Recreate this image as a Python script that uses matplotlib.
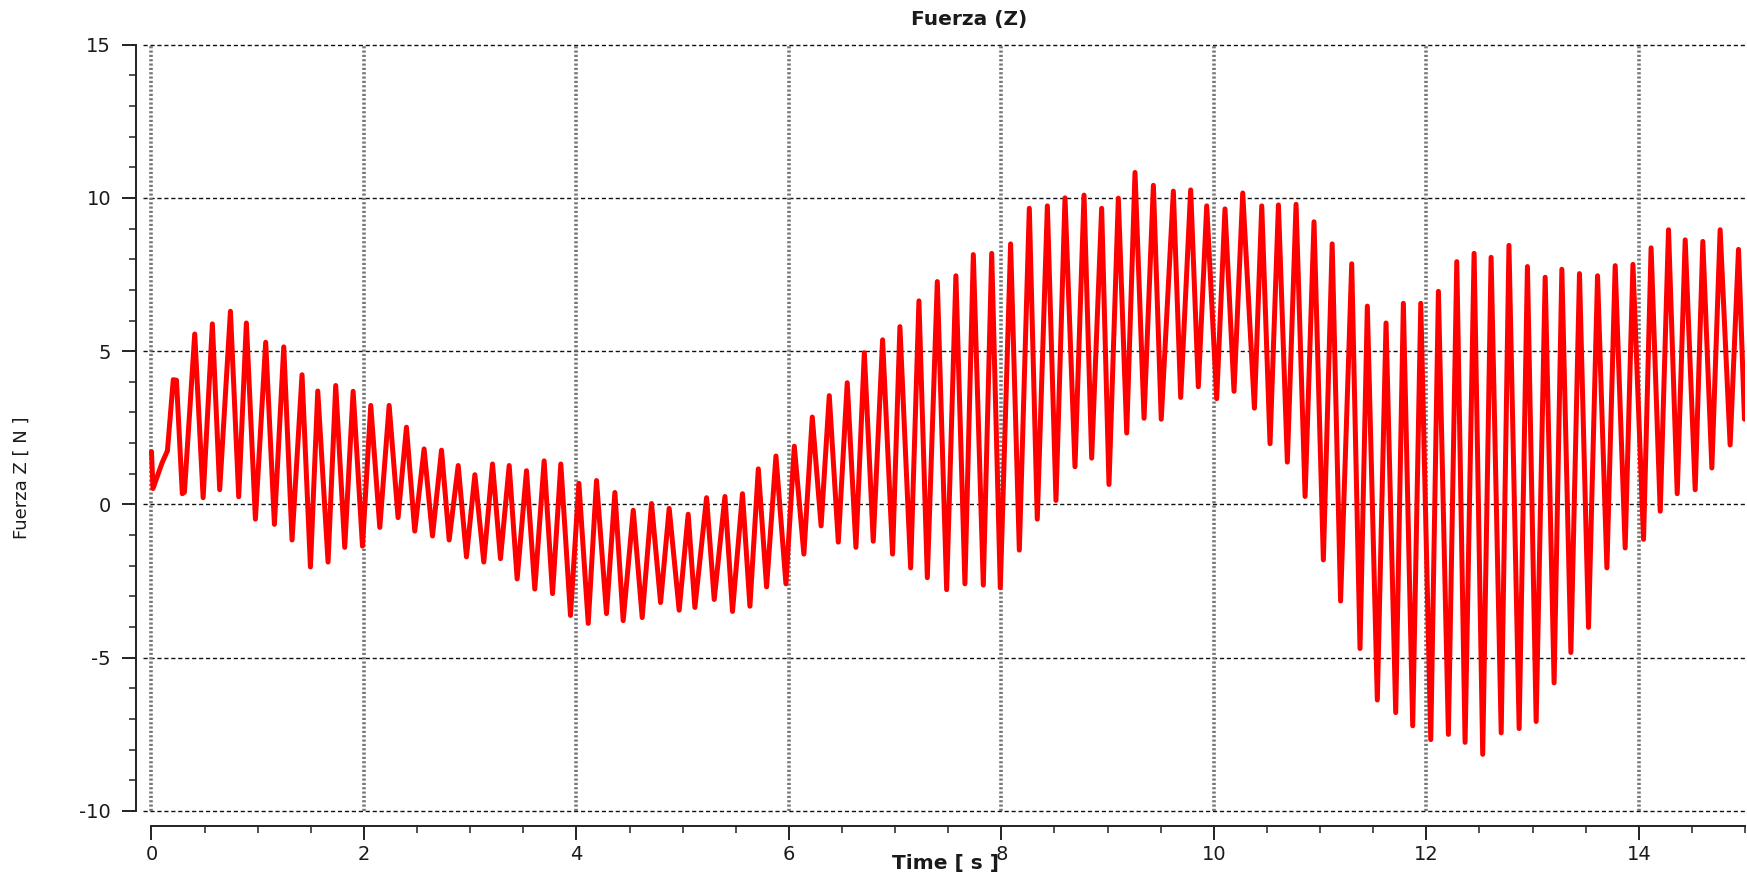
import matplotlib
matplotlib.use("Agg")
import matplotlib.pyplot as plt
from matplotlib.ticker import MultipleLocator

plt.rcParams["axes.unicode_minus"] = False

# ---- data: local extremes of the force signal ----
time_s = [
    0.000, 0.014, 0.100, 0.150, 0.205, 0.235, 0.290, 0.310, 0.407, 0.486,
    0.573, 0.642, 0.743, 0.821, 0.893, 0.978, 1.075, 1.157, 1.245, 1.323,
    1.417, 1.496, 1.565, 1.662, 1.734, 1.819, 1.898, 1.986, 2.064, 2.149,
    2.237, 2.321, 2.400, 2.478, 2.566, 2.645, 2.730, 2.802, 2.887, 2.965,
    3.044, 3.128, 3.210, 3.285, 3.367, 3.442, 3.530, 3.608, 3.696, 3.775,
    3.853, 3.944, 4.023, 4.111, 4.189, 4.283, 4.362, 4.440, 4.535, 4.619,
    4.707, 4.792, 4.873, 4.967, 5.052, 5.115, 5.225, 5.297, 5.398, 5.469,
    5.563, 5.633, 5.712, 5.790, 5.878, 5.972, 6.051, 6.141, 6.220, 6.303,
    6.380, 6.465, 6.549, 6.631, 6.710, 6.794, 6.882, 6.976, 7.045, 7.146,
    7.224, 7.303, 7.397, 7.485, 7.572, 7.657, 7.736, 7.830, 7.909, 7.990,
    8.087, 8.169, 8.263, 8.338, 8.433, 8.514, 8.599, 8.693, 8.778, 8.850,
    8.944, 9.013, 9.101, 9.180, 9.258, 9.343, 9.431, 9.505, 9.619, 9.688,
    9.782, 9.854, 9.933, 10.027, 10.105, 10.190, 10.272, 10.382, 10.451, 10.529,
    10.608, 10.692, 10.774, 10.859, 10.943, 11.031, 11.114, 11.193, 11.298, 11.376,
    11.445, 11.539, 11.621, 11.712, 11.784, 11.872, 11.948, 12.042, 12.114, 12.208,
    12.287, 12.365, 12.450, 12.531, 12.610, 12.705, 12.778, 12.874, 12.952, 13.034,
    13.119, 13.203, 13.276, 13.361, 13.442, 13.527, 13.612, 13.700, 13.778, 13.872,
    13.945, 14.045, 14.116, 14.202, 14.280, 14.362, 14.437, 14.531, 14.603, 14.688,
    14.766, 14.860, 14.939, 14.995,
]
force_z = [
    1.72, 0.52, 1.36, 1.75, 4.07, 4.05, 0.35, 0.40, 5.56, 0.22,
    5.89, 0.48, 6.30, 0.25, 5.92, -0.48, 5.29, -0.65, 5.14, -1.16,
    4.23, -2.04, 3.70, -1.88, 3.88, -1.40, 3.69, -1.36, 3.23, -0.75,
    3.23, -0.43, 2.52, -0.87, 1.81, -1.03, 1.77, -1.16, 1.27, -1.71,
    0.97, -1.88, 1.32, -1.77, 1.27, -2.43, 1.10, -2.76, 1.42, -2.91,
    1.32, -3.62, 0.69, -3.88, 0.78, -3.56, 0.39, -3.79, -0.19, -3.69,
    0.03, -3.20, -0.13, -3.45, -0.32, -3.36, 0.22, -3.10, 0.26, -3.49,
    0.35, -3.32, 1.16, -2.69, 1.58, -2.59, 1.90, -1.62, 2.85, -0.70,
    3.55, -1.23, 3.97, -1.40, 4.95, -1.20, 5.37, -1.62, 5.80, -2.07,
    6.64, -2.39, 7.27, -2.78, 7.46, -2.59, 8.15, -2.63, 8.19, -2.72,
    8.50, -1.49, 9.66, -0.48, 9.74, 0.13, 10.00, 1.23, 10.09, 1.51,
    9.66, 0.65, 9.99, 2.33, 10.83, 2.81, 10.41, 2.78, 10.22, 3.49,
    10.26, 3.84, 9.74, 3.45, 9.64, 3.69, 10.16, 3.14, 9.74, 1.98,
    9.77, 1.38, 9.79, 0.26, 9.22, -1.81, 8.50, -3.15, 7.85, -4.70,
    6.47, -6.38, 5.92, -6.79, 6.56, -7.22, 6.56, -7.67, 6.95, -7.50,
    7.92, -7.76, 8.19, -8.15, 8.06, -7.45, 8.45, -7.31, 7.76, -7.08,
    7.41, -5.82, 7.67, -4.83, 7.53, -4.01, 7.46, -2.07, 7.79, -1.42,
    7.83, -1.14, 8.37, -0.22, 8.96, 0.35, 8.63, 0.48, 8.58, 1.19,
    8.96, 1.94, 8.32, 2.78,
]
x_ticks = [0, 2, 4, 6, 8, 10, 12, 14]
y_ticks = [-10, -5, 0, 5, 10, 15]

W, H = 1747, 877
fig = plt.figure(figsize=(W / 100, H / 100), dpi=100)
x0, x1 = 143.0, 1745.0
y_top, y_bot = 44.6, 811.0
ax = fig.add_axes([x0 / W, 1 - y_bot / H, (x1 - x0) / W, (y_bot - y_top) / H])

ax.plot(time_s, force_z, color="#ff0000", lw=3.6, solid_joinstyle="round",
        solid_capstyle="round", zorder=3)

ax.set_xlim(-0.08, 15.0)
ax.set_ylim(-10, 15)
ax.set_xticks(x_ticks)
ax.set_yticks(y_ticks)
ax.xaxis.set_minor_locator(MultipleLocator(0.5))
ax.yaxis.set_minor_locator(MultipleLocator(1))

# grids
for yv in y_ticks:
    ax.axhline(yv, color="#111111", lw=1.0, ls=(0, (3, 2)), zorder=1,
               clip_on=False)
for xv in x_ticks:
    ax.axvline(xv, color="#777777", lw=2.6, ls=(0, (0.6, 0.6)), zorder=1,
               clip_on=False)

# spines
for s in ("top", "right"):
    ax.spines[s].set_visible(False)
ax.spines["left"].set_position(("outward", 5))
ax.spines["bottom"].set_position(("outward", 11))
ax.spines["left"].set_bounds(-10, 15)
ax.spines["bottom"].set_bounds(0, 15)
for s in ("left", "bottom"):
    ax.spines[s].set_linewidth(1.4)
    ax.spines[s].set_color("#222222")

ax.tick_params(axis="both", which="major", direction="out", length=10,
               width=1.4, color="#222222", labelsize=14, labelcolor="#1a1a1a")
ax.tick_params(axis="both", which="minor", direction="out", length=5,
               width=1.1, color="#222222")
ax.tick_params(axis="y", pad=8)

fig.text(969 / W, 1 - 20 / H, "Fuerza (Z)", ha="center", va="center",
         fontsize=14.5, fontweight="bold", color="#1a1a1a")
fig.text(945 / W, 1 - 864 / H, "Time [ s ]", ha="center", va="center",
         fontsize=14.5, fontweight="bold", color="#1a1a1a")
fig.text(22 / W, 1 - 478 / H, "Fuerza Z [ N ]", ha="center", va="center",
         rotation=90, fontsize=13,
         family=["Liberation Sans Narrow", "DejaVu Sans"], color="#1a1a1a")

fig.savefig("out.png", dpi=100)
